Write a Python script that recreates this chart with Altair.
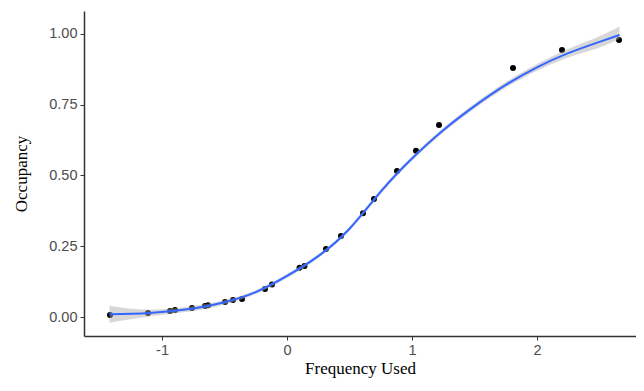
import altair as alt
import pandas as pd

# observed points
pt_x = [-1.416, -1.112, -0.936, -0.896, -0.76, -0.656, -0.632, -0.496, -0.432, -0.36,
        -0.176, -0.12, 0.10, 0.14, 0.312, 0.432, 0.608, 0.696, 0.88, 1.032, 1.216,
        1.808, 2.2, 2.656]
pt_y = [0.007, 0.014, 0.021, 0.025, 0.032, 0.039, 0.042, 0.053, 0.060, 0.064,
        0.099, 0.115, 0.174, 0.180, 0.240, 0.286, 0.367, 0.417, 0.516, 0.587, 0.678,
        0.880, 0.943, 0.979]

# smooth fit
fit_x = [-1.42, -1.1, -0.75, -0.5, -0.25, 0.0, 0.25, 0.5, 0.75, 1.0, 1.25, 1.5,
         1.75, 2.0, 2.25, 2.5, 2.66]
fit_y = [0.010, 0.014, 0.030, 0.052, 0.088, 0.145, 0.215, 0.312, 0.443, 0.560,
         0.660, 0.745, 0.820, 0.882, 0.932, 0.972, 0.996]
fit_lo = [-0.020, 0.002, 0.021, 0.044, 0.081, 0.138, 0.208, 0.305, 0.435, 0.552,
          0.652, 0.736, 0.810, 0.870, 0.917, 0.952, 0.983]
fit_hi = [0.040, 0.026, 0.039, 0.060, 0.095, 0.152, 0.222, 0.319, 0.451, 0.568,
          0.668, 0.754, 0.830, 0.894, 0.947, 0.992, 1.026]

pts = pd.DataFrame({"x": pt_x, "y": pt_y})
fit = pd.DataFrame({"x": fit_x, "y": fit_y, "lo": fit_lo, "hi": fit_hi})

xs = alt.Scale(domain=[-1.624, 2.792], nice=False, zero=False)
ys = alt.Scale(domain=[-0.067, 1.081], nice=False, zero=False)

xax = alt.Axis(values=[-1, 0, 1, 2], format="d", title="Frequency Used", grid=False,
               labelExpr="replace(datum.label, '\u2212', '-')", titlePadding=4)
yax = alt.Axis(values=[0, 0.25, 0.5, 0.75, 1.0], format=".2f", title="Occupancy",
               grid=False, titlePadding=18)

points = alt.Chart(pts).mark_circle(size=36, color="black", opacity=1).encode(
    x=alt.X("x:Q", scale=xs, axis=xax),
    y=alt.Y("y:Q", scale=ys, axis=yax),
)

band = alt.Chart(fit).mark_area(color="#a6a6a6", opacity=0.45, interpolate="natural").encode(
    x=alt.X("x:Q", scale=xs),
    y=alt.Y("lo:Q", scale=ys),
    y2="hi:Q",
)

line = alt.Chart(fit).mark_line(color="#3366FF", strokeWidth=2, interpolate="natural").encode(
    x=alt.X("x:Q", scale=xs),
    y=alt.Y("y:Q", scale=ys),
)

chart = alt.layer(points, band, line).properties(
    width=552, height=325,
    padding={"left": 76, "top": 3, "right": 0, "bottom": 47},
    autosize="none",
).configure_view(stroke=None).configure_axis(
    domainColor="#333333", domainWidth=1.5,
    tickColor="#333333", tickSize=4, tickWidth=1,
    labelColor="#4d4d4d", labelFont="Liberation Sans", labelFontSize=14.5,
    labelPadding=3,
    titleColor="black", titleFont="Liberation Serif", titleFontSize=17,
    titleFontWeight="normal",
)

chart.save("out.html", embed_options={"renderer": "svg", "actions": False})
